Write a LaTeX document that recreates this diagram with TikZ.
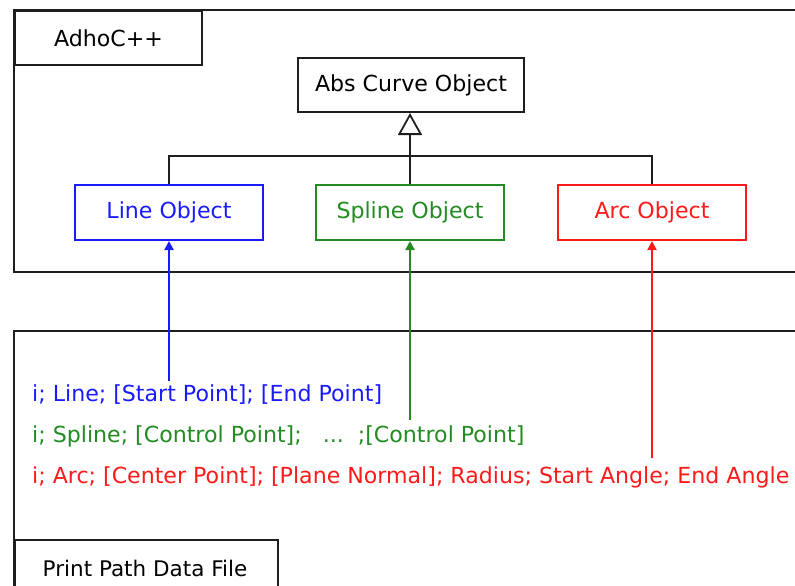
\documentclass[tikz,border=0pt]{standalone}
\usepackage{fontspec}
\setmainfont{DejaVu Sans}
\usetikzlibrary{arrows.meta}
\definecolor{lineblue}{RGB}{26,26,255}
\definecolor{splinegreen}{RGB}{34,139,34}
\definecolor{arcred}{RGB}{255,26,26}
\definecolor{frame}{RGB}{30,30,30}
\tikzset{
  txt/.style={font=\fontsize{22.1}{24}\selectfont},
  box/.style={draw=frame, line width=2pt, minimum height=54pt, inner sep=0pt, txt},
  objbox/.style={draw, line width=2pt, minimum width=188pt, minimum height=55pt, inner sep=0pt, txt},
  frameline/.style={draw=frame, line width=2.2pt},
  feed/.style={line width=2pt, -{Triangle[length=9pt,width=9pt]}},
  fmt/.style={anchor=base west, inner sep=0pt, txt}
}
\begin{document}
\begin{tikzpicture}[x=1pt,y=-1pt]
\useasboundingbox (0,0) rectangle (795,586);
\begin{scope}
\clip (0,0) rectangle (795,586);
% package frame: AdhoC++
\draw[frameline] (800,10) -- (14,10) -- (14,272) -- (800,272);
\node[box, minimum width=187pt, anchor=north west] (adhoc) at (14,10) {AdhoC++};
% file frame: Print Path Data File
\draw[frameline] (800,331) -- (14,331) -- (14,600);
\node[box, minimum width=263pt, minimum height=60pt, anchor=north west] (ppdf) at (14,539) {};
\node[font=\fontsize{21.5}{24}\selectfont] (ppdftxt) at (145,568) {Print Path Data File};
\end{scope}

% class hierarchy
\node[box, minimum width=226pt, anchor=north west] (abs) at (297,57) {Abs Curve Object};
\node[objbox, draw=lineblue, text=lineblue] (line) at (169,212.5) {Line Object};
\node[objbox, draw=splinegreen, text=splinegreen] (spline) at (410,212.5) {Spline Object};
\node[objbox, draw=arcred, text=arcred] (arc) at (652,212.5) {Arc Object};

\coordinate (bus) at (410,156);
\draw[frame, line width=2pt] (line.north) |- (bus) -| (arc.north);
\draw[frame, line width=2pt, -{Triangle[open, length=22pt, width=24pt, line width=1.8pt]}] (spline.north) -- (spline.north |- abs.south);

% record formats
\node[fmt, text=lineblue] (lrec) at (32,401) {i; Line; [Start Point]; [End Point]};
\node[fmt, text=splinegreen] (srec) at (32,442) {i; Spline; [Control Point];\ \ \ ...\ \ ;[Control Point]};
\node[fmt, text=arcred] (arec) at (32,483) {i; Arc; [Center Point]; [Plane Normal]; Radius; Start Angle; End Angle};

\coordinate (lsrc) at (line.south |- 0,381);
\coordinate (ssrc) at (spline.south |- 0,420);
\coordinate (asrc) at (arc.south |- 0,458);
\draw[feed, lineblue] (lsrc) -- (line.south);
\draw[feed, splinegreen] (ssrc) -- (spline.south);
\draw[feed, arcred] (asrc) -- (arc.south);
\end{tikzpicture}
\end{document}
